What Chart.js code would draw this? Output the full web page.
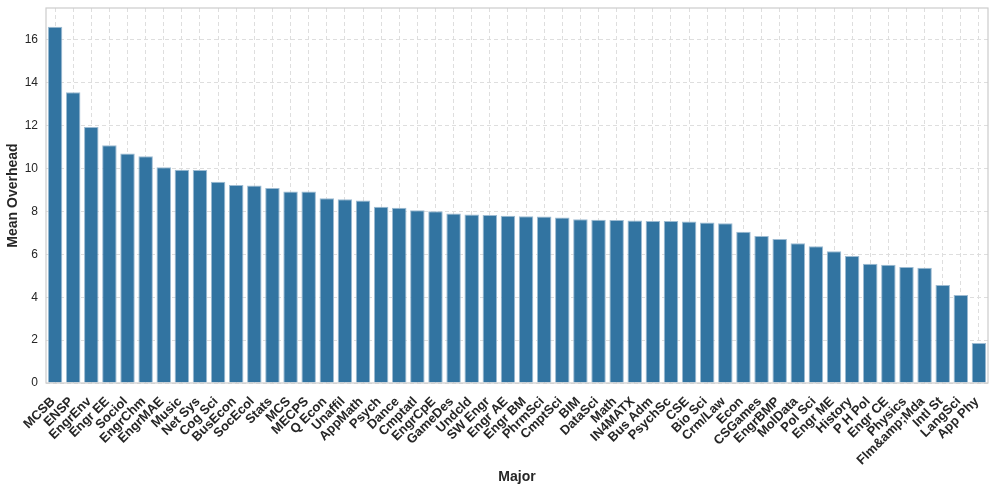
<!DOCTYPE html>
<html>
<head>
<meta charset="utf-8">
<script src="https://cdn.jsdelivr.net/npm/chart.js@4/dist/chart.umd.min.js"></script>
<style>
  html, body { margin: 0; padding: 0; background: #ffffff; }
  canvas { display: block; }
</style>
</head>
<body>
<canvas id="c" width="996" height="495"></canvas>
<script>
const majors = ["MCSB","ENSP","EngrEnv","Engr EE","Sociol","EngrChm","EngrMAE","Music","Net Sys","Cog Sci",
  "BusEcon","SocEcol","Stats","MCS","MECPS","Q Econ","Unaffil","AppMath","Psych","Dance",
  "Cmptatl","EngrCpE","GameDes","Undcld","SW Engr","Engr AE","Engr BM","PhrmSci","CmptSci","BIM",
  "DataSci","Math","IN4MATX","Bus Adm","PsychSc","CSE","Bio Sci","Crm/Law","Econ","CSGames",
  "EngrBMP","MolData","Pol Sci","Engr ME","History","P H Pol","Engr CE","Physics","Flm&amp;Mda","Intl St",
  "LangSci","App Phy"];
const meanOverhead = [16.62,13.56,11.94,11.09,10.70,10.58,10.06,9.95,9.94,9.39,
  9.24,9.21,9.09,8.93,8.93,8.62,8.57,8.51,8.22,8.17,
  8.06,8.01,7.90,7.86,7.83,7.80,7.78,7.76,7.72,7.64,
  7.61,7.60,7.58,7.56,7.55,7.53,7.48,7.45,7.05,6.86,
  6.72,6.52,6.38,6.15,5.92,5.56,5.51,5.41,5.37,4.57,
  4.11,1.86];
const yTickStep = 2;
const yMax = 17.49;

const FONT = "'Liberation Sans', Arial, Helvetica, sans-serif";
const TEXT = '#262626';

const frame = {
  id: 'frame',
  afterDraw(chart) {
    const a = chart.chartArea, ctx = chart.ctx;
    ctx.save();
    ctx.strokeStyle = '#cccccc';
    ctx.lineWidth = 1.2;
    ctx.strokeRect(a.left, a.top, a.right - a.left, a.bottom - a.top);
    ctx.restore();
  }
};

new Chart(document.getElementById('c'), {
  type: 'bar',
  data: {
    labels: majors,
    datasets: [{
      data: meanOverhead,
      backgroundColor: '#3274a1',
      borderColor: '#9dbbd2',
      borderWidth: 1,
      barPercentage: 0.8,
      categoryPercentage: 1.0
    }]
  },
  plugins: [frame],
  options: {
    responsive: false,
    animation: false,
    layout: { padding: { left: 0, right: 8, top: 8, bottom: 5 } },
    plugins: { legend: { display: false }, tooltip: { enabled: false } },
    scales: {
      x: {
        afterFit(s) { s.height = 107; s.paddingLeft = 0; s.paddingRight = 0; },
        grid: { display: true, offset: false, drawTicks: false, color: '#dedede', lineWidth: 1 },
        border: { display: false, dash: [4, 3] },
        ticks: {
          autoSkip: false, maxRotation: 45, minRotation: 45,
          padding: 11, labelOffset: -2,
          color: TEXT, font: { family: FONT, size: 13, weight: 'bold' }
        },
        title: { display: true, text: 'Major', color: TEXT,
          font: { family: FONT, size: 14, weight: 'bold' }, padding: { top: 4, bottom: 4 } }
      },
      y: {
        min: 0, max: yMax,
        afterFit(s) { s.width = 46; s.paddingTop = 0; s.paddingBottom = 0; },
        grid: { display: true, drawTicks: false, color: '#dedede', lineWidth: 1 },
        border: { display: false, dash: [4, 3] },
        ticks: { stepSize: yTickStep, includeBounds: false, padding: 8,
          color: TEXT, font: { family: FONT, size: 12 } },
        title: { display: true, text: 'Mean Overhead', color: TEXT,
          font: { family: FONT, size: 14, weight: 'bold' }, padding: { top: 5, bottom: 4 } }
      }
    }
  }
});
</script>
</body>
</html>
